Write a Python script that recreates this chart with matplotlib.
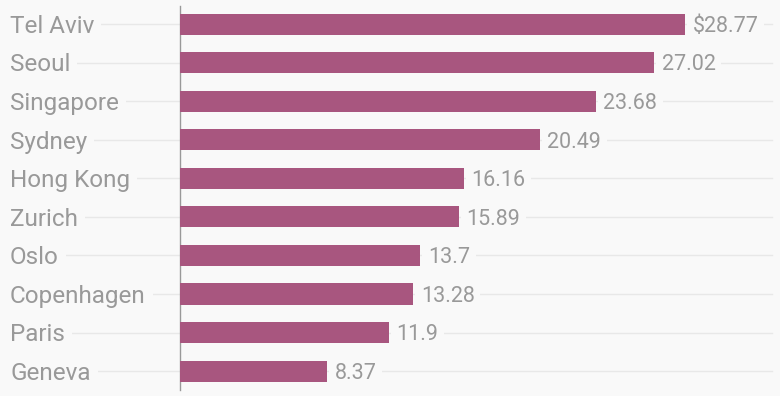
import matplotlib.pyplot as plt
from matplotlib.transforms import blended_transform_factory

cities = ['Tel Aviv', 'Seoul', 'Singapore', 'Sydney', 'Hong Kong',
          'Zurich', 'Oslo', 'Copenhagen', 'Paris', 'Geneva']
prices = [28.77, 27.02, 23.68, 20.49, 16.16, 15.89, 13.7, 13.28, 11.9, 8.37]
value_labels = ['$28.77', '27.02', '23.68', '20.49', '16.16',
                '15.89', '13.7', '13.28', '11.9', '8.37']

BG = '#f9f9f9'
BAR = '#a8567f'
TXT = '#999999'
GRID = '#e8e8e8'

fig = plt.figure(figsize=(7.8, 3.96), dpi=100, facecolor=BG)
ax = fig.add_axes([180 / 780, 6 / 396, 600 / 780, 384 / 396])
ax.set_facecolor('none')

ypos = list(range(len(cities)))
ax.barh(ypos, prices, height=0.55, color=BAR, zorder=3)
ax.set_xlim(0, 34.19)
ax.set_ylim(9.49, -0.47)

# grid lines across the whole figure width, behind the labels
trans = blended_transform_factory(fig.transFigure, ax.transData)
for y in ypos:
    ax.plot([10 / 780, 772 / 780], [y, y], color=GRID, lw=1,
            transform=trans, clip_on=False, zorder=0)

# city labels on the left (baseline a bit under the bar centre)
for y, name in zip(ypos, cities):
    ax.annotate(name, (10 / 780, y), xycoords=trans, xytext=(0, -6.3),
                textcoords='offset points', ha='left', va='baseline',
                fontsize=17.5, color=TXT, family='Roboto',
                bbox=dict(facecolor=BG, edgecolor='none', pad=5), zorder=2)

# value labels
for y, v, lab in zip(ypos, prices, value_labels):
    ax.annotate(lab, (v, y), xytext=(5.5, -5.6), textcoords='offset points',
                ha='left', va='baseline', fontsize=15.5, color=TXT,
                family='Roboto',
                bbox=dict(facecolor=BG, edgecolor='none', pad=4), zorder=2)

for s in ['top', 'right', 'bottom']:
    ax.spines[s].set_visible(False)
ax.spines['left'].set_color('#999999')
ax.spines['left'].set_linewidth(1)
ax.set_xticks([])
ax.set_yticks([])

fig.savefig('out.png', dpi=100, facecolor=BG)
